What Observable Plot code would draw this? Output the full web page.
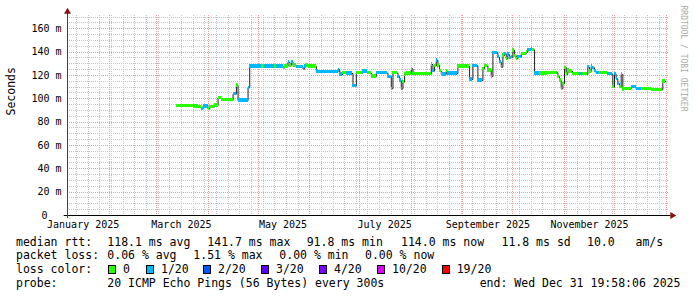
<!DOCTYPE html>
<html><head><meta charset="utf-8">
<script src="https://cdn.jsdelivr.net/npm/d3@7"></script>
<script src="https://cdn.jsdelivr.net/npm/@observablehq/plot@0.6"></script>
<style>
html,body{margin:0;padding:0;background:#fff;}
#wrap{position:relative;width:697px;height:297px;overflow:hidden;font-family:"DejaVu Sans Mono",monospace;background:#fff;}
#chart{position:absolute;left:0;top:0;}
.lg{position:absolute;font-size:11.5px;line-height:14px;white-space:pre;color:#000;}
.box{position:absolute;width:6px;height:7px;border:1px solid #000;}
</style></head><body><div id="wrap"><div id="chart"></div></div>
<script>
// ---- data (median RTT in ms, step series; loss = lost pings out of 20) ----
const dates = ["2025-03-13","2025-03-23","2025-03-26","2025-03-28","2025-03-29","2025-04-01","2025-04-02","2025-04-05","2025-04-07","2025-04-09",
"2025-04-16","2025-04-18","2025-04-19","2025-04-25","2025-04-26","2025-05-03","2025-05-05","2025-05-11","2025-05-12","2025-05-16",
"2025-05-17","2025-05-19","2025-05-20","2025-05-21","2025-05-22","2025-05-24","2025-05-28","2025-05-29","2025-05-30","2025-05-31",
"2025-06-05","2025-06-06","2025-06-18","2025-06-19","2025-06-21","2025-06-23","2025-06-27","2025-06-29","2025-07-03","2025-07-06",
"2025-07-08","2025-07-11","2025-07-18","2025-07-20","2025-07-21","2025-07-24","2025-07-25","2025-07-26","2025-07-27","2025-07-28",
"2025-07-29","2025-08-01","2025-08-02","2025-08-13","2025-08-14","2025-08-15","2025-08-16","2025-08-17","2025-08-18","2025-08-19",
"2025-08-20","2025-08-22","2025-08-23","2025-08-29","2025-09-05","2025-09-07","2025-09-10","2025-09-13","2025-09-14","2025-09-16",
"2025-09-18","2025-09-19","2025-09-22","2025-09-23","2025-09-24","2025-09-25","2025-09-26","2025-09-27","2025-09-28","2025-09-29",
"2025-09-30","2025-10-01","2025-10-02","2025-10-03","2025-10-04","2025-10-06","2025-10-09","2025-10-10","2025-10-12","2025-10-13",
"2025-10-14","2025-10-17","2025-10-22","2025-10-28","2025-10-29","2025-10-30","2025-10-31","2025-11-01","2025-11-02","2025-11-03",
"2025-11-04","2025-11-06","2025-11-10","2025-11-12","2025-11-15","2025-11-16","2025-11-17","2025-11-18","2025-11-19","2025-11-20",
"2025-11-22","2025-11-27","2025-11-30","2025-12-01","2025-12-02","2025-12-03","2025-12-04","2025-12-05","2025-12-06","2025-12-07",
"2025-12-11","2025-12-14","2025-12-17","2025-12-23","2025-12-30"];
const rtt = [93.8,93.5,92.8,91.4,93.4,91.4,93.0,94.2,100.6,98.8,
104.0,111.4,98.5,109.4,127.7,127.7,127.7,127.7,127.7,126.3,
127.7,131.4,128.6,131.4,128.6,127.1,125.4,127.7,128.6,127.7,
123.4,122.9,125.0,120.9,122.4,121.7,110.9,122.0,123.4,122.0,
119.1,122.0,119.0,108.6,122.0,119.0,115.7,108.6,114.3,120.9,
121.7,125.7,121.0,129.4,123.7,128.0,132.9,128.6,123.7,120.9,
120.9,123.7,121.7,127.7,116.6,128.3,115.7,125.7,128.0,124.3,
119.0,139.4,135.7,131.4,127.1,137.1,138.6,134.3,138.0,135.0,
135.7,141.4,137.0,134.3,135.7,138.6,140.0,142.0,142.9,142.0,
121.7,121.7,122.3,119.0,115.7,108.6,113.0,126.6,121.0,124.3,
123.4,121.0,121.0,121.0,127.1,123.4,127.7,126.6,123.7,122.0,
122.0,121.0,110.0,121.0,117.1,113.0,110.0,121.0,108.0,108.6,
110.0,108.6,108.6,107.7,114.9];
const loss = [0,0,0,1,1,0,0,0,0,0,
1,0,1,1,1,0,1,0,1,0,
0,1,0,1,0,1,1,1,0,0,
1,1,1,1,0,1,1,0,1,0,
0,1,1,0,0,1,1,1,0,0,
0,0,0,0,1,0,1,0,0,0,
1,0,1,0,1,1,1,0,0,0,
0,1,1,1,1,0,1,0,1,1,
1,0,0,0,1,0,0,1,1,0,
1,0,0,0,0,0,0,0,0,0,
0,0,1,0,1,0,1,1,1,1,
0,1,0,1,1,1,0,0,0,0,
1,1,0,0,0];
const lastTime = "2025-12-31T20:00:00Z";
const domainStart = "2025-01-06T14:30:00Z";
const domainEnd = "2026-01-02T10:00:00Z";

const lossLevels = [0,1,2,3,4,10,19];
const lossLabels = ["0","1/20","2/20","3/20","4/20","10/20","19/20"];
const lossColors = ["#26ff00","#00b8ff","#0059ff","#5e00ff","#7e00ff","#dd00ff","#ff0000"];

const yTicks = [0,20,40,60,80,100,120,140,160];
const monthLabelDates = ["2025-01-16","2025-03-16","2025-05-16","2025-07-16","2025-09-16","2025-11-16"];

const statsRow1 = [["median rtt:",16],["118.1 ms avg",107.3],["141.7 ms max",207.3],["91.8 ms min",306.7],["114.0 ms now",401],["11.8 ms sd",501.5],["10.0   am/s",587]];
const statsRow2 = [["packet loss:",16],["0.06 % avg",107.3],["1.51 % max",193.3],["0.00 % min",279.3],["0.00 % now",365]];
const lossRowTitle = ["loss color:",16];
const lossBoxX = [108,146,203,261,319,377,441.7];
const probeRow = [["probe:",16],["20 ICMP Echo Pings (56 Bytes) every 300s",107.3],["end: Wed Dec 31 19:58:06 2025",479.7]];
const rowTops = [234.5,248,262.3,275.5];

// ---- build table ----
const rows = dates.map((d, i) => ({
  t1: new Date(d + "T00:00:00Z"),
  t2: new Date(i + 1 < dates.length ? dates[i + 1] + "T00:00:00Z" : lastTime),
  v: rtt[i],
  loss: loss[i]
}));
const linePts = rows.map(r => ({t: r.t1, v: r.v})).concat([{t: new Date(lastTime), v: rtt[rtt.length - 1]}]);

const x0 = new Date(domainStart), x1 = new Date(domainEnd);
const day = 864e5;
const weeks = d3.utcSunday.range(x0, x1);
const months = d3.utcMonth.range(x0, x1);
const minorY = d3.range(5, 171, 5);
const HALF = 1.4;

const chart = Plot.plot({
  width: 697, height: 232,
  marginLeft: 67, marginRight: 29, marginTop: 15, marginBottom: 17,
  style: {fontFamily: "DejaVu Sans Mono", fontSize: "10px", background: "white", overflow: "visible", color: "#000"},
  x: {type: "utc", domain: [x0, x1]},
  y: {domain: [0, 171.4]},
  color: {type: "ordinal", domain: lossLevels, range: lossColors},
  marks: [
    Plot.ruleY(minorY, {stroke: "#c4c4c4", strokeDasharray: "1,1", shapeRendering: "crispEdges"}),
    Plot.ruleX(weeks, {stroke: "#c4c4c4", strokeDasharray: "1,1", shapeRendering: "crispEdges"}),
    Plot.ruleY(yTicks.filter(v => v > 0), {stroke: "#e69a9a", strokeDasharray: "1,1", shapeRendering: "crispEdges"}),
    Plot.ruleX(months, {stroke: "#e69a9a", strokeDasharray: "1,1", shapeRendering: "crispEdges"}),
    Plot.line(linePts, {x: "t", y: "v", curve: "step-after", stroke: "#202020", strokeWidth: 1}),
    Plot.rect(rows, {x1: "t1", x2: "t2", y1: d => d.v - HALF, y2: d => d.v + HALF, fill: "loss", inset: 0, shapeRendering: "crispEdges"}),
    Plot.axisY({ticks: yTicks.filter(v => v > 0), tickSize: 0, tickPadding: 6, tickFormat: v => `${v} m`, label: null, fontSize: 10}),
    Plot.axisY({ticks: [0], tickSize: 0, tickPadding: 20, tickFormat: v => `${v}`, label: null, fontSize: 10}),
    Plot.axisX({ticks: monthLabelDates.map(d => new Date(d + "T00:00:00Z")), tickSize: 0, tickPadding: 5, tickFormat: d3.utcFormat("%B %Y"), label: null, fontSize: 10}),
    Plot.ruleY([0], {x1: new Date(+x0 - 2 * day), x2: new Date(+x1 + 1.5 * day), stroke: "#000", strokeWidth: 1}),
    Plot.ruleX([x0], {y1: -2.6, y2: 174.5, stroke: "#444", strokeWidth: 1}),
    Plot.dot([{t: x0, v: 174.6}], {x: "t", y: "v", symbol: "triangle", r: 2.6, fill: "#8b1010", stroke: null}),
    Plot.dot([{t: new Date(+x1 + 2.3 * day), v: 0}], {x: "t", y: "v", symbol: "triangle", r: 2.6, fill: "#8b1010", stroke: null, rotate: 90}),
    Plot.text(["Seconds"], {frameAnchor: "left", dx: -56, rotate: -90, fontSize: 11.5, fill: "#000"}),
    Plot.text(["RRDTOOL / TOBI OETIKER"], {frameAnchor: "top-right", dx: 18, dy: -10, rotate: 90, textAnchor: "start", fontSize: 8, fill: "#aaaaaa"})
  ]
});
document.getElementById("chart").appendChild(chart);

// ---- legend (HTML below the SVG) ----
const wrap = document.getElementById("wrap");
function addText(txt, x, top) {
  const s = document.createElement("div");
  s.className = "lg"; s.textContent = txt;
  s.style.left = x + "px"; s.style.top = top + "px";
  wrap.appendChild(s);
}
statsRow1.forEach(([t, x]) => addText(t, x, rowTops[0]));
statsRow2.forEach(([t, x]) => addText(t, x, rowTops[1]));
addText(lossRowTitle[0], lossRowTitle[1], rowTops[2]);
lossLabels.forEach((lab, i) => {
  const b = document.createElement("div");
  b.className = "box";
  b.style.left = lossBoxX[i] + "px"; b.style.top = "265px";
  b.style.background = lossColors[i];
  wrap.appendChild(b);
  addText(lab, lossBoxX[i] + 15, rowTops[2]);
});
probeRow.forEach(([t, x]) => addText(t, x, rowTops[3]));
</script></body></html>
